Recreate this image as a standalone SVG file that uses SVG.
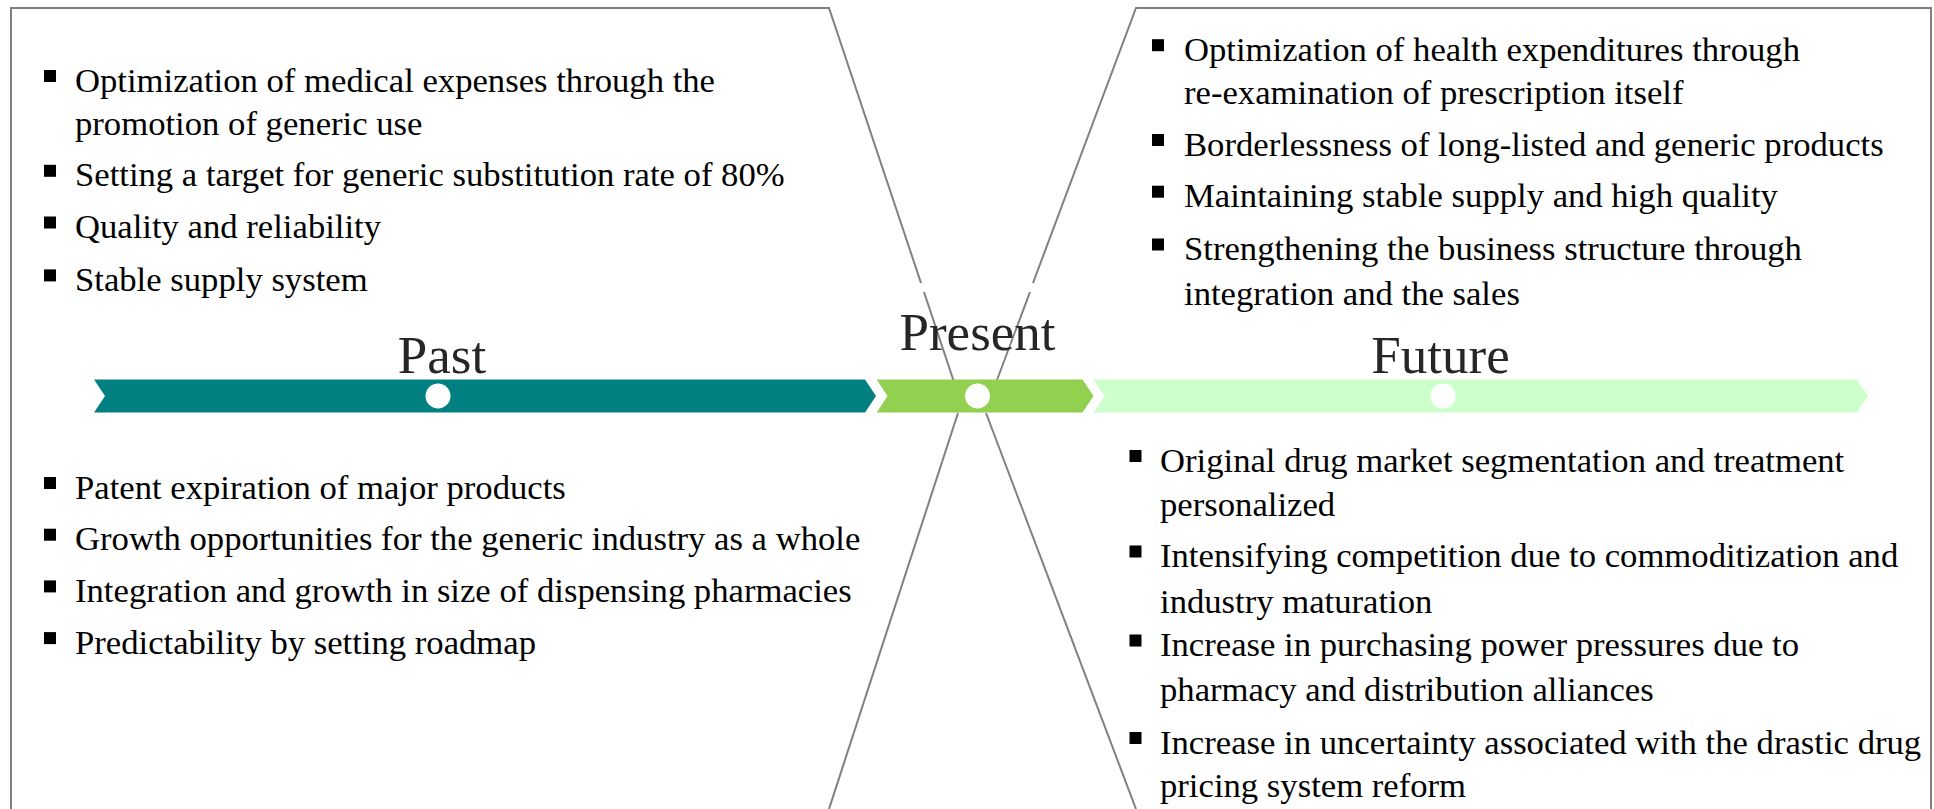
<svg xmlns="http://www.w3.org/2000/svg" width="1934" height="809" viewBox="0 0 1934 809">
  <style>
    .frame { fill: none; stroke: #808080; stroke-width: 2; }
    .item { font-family: "Liberation Serif", "Times New Roman", serif; font-size: 34.67px; fill: #000000; }
    .title { font-family: "Liberation Serif", "Times New Roman", serif; font-size: 53px; fill: #262626; text-anchor: middle; }
    .dot { fill: #000000; }
    .marker { fill: #FFFFFF; }
  </style>
  <rect width="1934" height="809" fill="#FFFFFF"/>

  <!-- Hourglass outlines of the past and future panels -->
  <g id="frames">
    <path class="frame" d="M11,809 L11,8 L829,8 L921,283"/>
    <path class="frame" d="M924,292 L956,388"/>
    <path class="frame" d="M958,413 L829,809"/>
    <path class="frame" d="M1931,809 L1931,8 L1136,8 L1033,283"/>
    <path class="frame" d="M1030,292 L994,388"/>
    <path class="frame" d="M986,413 L1136,809"/>
  </g>

  <!-- Timeline bar -->
  <g id="past-segment">
    <polygon points="94,379.5 865,379.5 876,396 865,412.5 94,412.5 105,396" fill="#008080"/>
    <circle class="marker" cx="438" cy="396" r="12.5"/>
    <text class="title" x="442" y="373">Past</text>
  </g>
  <g id="present-segment">
    <polygon points="876.7,379.5 1082.5,379.5 1093.5,396 1082.5,412.5 876.7,412.5 887.5,396" fill="#92D050"/>
    <circle class="marker" cx="977.5" cy="396" r="12.5"/>
    <text class="title" x="977.5" y="350">Present</text>
  </g>
  <g id="future-segment">
    <polygon points="1093.5,379.5 1857,379.5 1868,396 1857,412.5 1093.5,412.5 1104.5,396" fill="#CCFFCC"/>
    <circle class="marker" cx="1443" cy="396" r="12.5"/>
    <text class="title" x="1440.5" y="372.5">Future</text>
  </g>

  <!-- Past: policy drivers -->
  <g id="past-policy">
    <rect class="dot" x="44" y="70" width="12" height="12"/>
    <text class="item" x="75" y="91.5">Optimization of medical expenses through the</text>
    <text class="item" x="75" y="134.5">promotion of generic use</text>
    <rect class="dot" x="44" y="164.8" width="12" height="12"/>
    <text class="item" x="75" y="186.3">Setting a target for generic substitution rate of 80%</text>
    <rect class="dot" x="44" y="216.5" width="12" height="12"/>
    <text class="item" x="75" y="238">Quality and reliability</text>
    <rect class="dot" x="44" y="269.4" width="12" height="12"/>
    <text class="item" x="75" y="290.9">Stable supply system</text>
  </g>

  <!-- Past: market drivers -->
  <g id="past-market">
    <rect class="dot" x="44" y="477" width="12" height="12"/>
    <text class="item" x="75" y="498.5">Patent expiration of major products</text>
    <rect class="dot" x="44" y="528.7" width="12" height="12"/>
    <text class="item" x="75" y="550.2">Growth opportunities for the generic industry as a whole</text>
    <rect class="dot" x="44" y="580.4" width="12" height="12"/>
    <text class="item" x="75" y="601.9">Integration and growth in size of dispensing pharmacies</text>
    <rect class="dot" x="44" y="632.1" width="12" height="12"/>
    <text class="item" x="75" y="653.6">Predictability by setting roadmap</text>
  </g>

  <!-- Future: policy drivers -->
  <g id="future-policy">
    <rect class="dot" x="1152" y="39.2" width="12" height="12"/>
    <text class="item" x="1184" y="60.7">Optimization of health expenditures through</text>
    <text class="item" x="1184" y="103.7">re-examination of prescription itself</text>
    <rect class="dot" x="1152" y="134" width="12" height="12"/>
    <text class="item" x="1184" y="155.5">Borderlessness of long-listed and generic products</text>
    <rect class="dot" x="1152" y="185.7" width="12" height="12"/>
    <text class="item" x="1184" y="207.2">Maintaining stable supply and high quality</text>
    <rect class="dot" x="1152" y="238.5" width="12" height="12"/>
    <text class="item" x="1184" y="260">Strengthening the business structure through</text>
    <text class="item" x="1184" y="305.4">integration and the sales</text>
  </g>

  <!-- Future: market drivers -->
  <g id="future-market">
    <rect class="dot" x="1129.5" y="450" width="12" height="12"/>
    <text class="item" x="1160" y="471.5">Original drug market segmentation and treatment</text>
    <text class="item" x="1160" y="515.5">personalized</text>
    <rect class="dot" x="1129.5" y="545.5" width="12" height="12"/>
    <text class="item" x="1160" y="567">Intensifying competition due to commoditization and</text>
    <text class="item" x="1160" y="613">industry maturation</text>
    <rect class="dot" x="1129.5" y="634.5" width="12" height="12"/>
    <text class="item" x="1160" y="656">Increase in purchasing power pressures due to</text>
    <text class="item" x="1160" y="700.5">pharmacy and distribution alliances</text>
    <rect class="dot" x="1129.5" y="732" width="12" height="12"/>
    <text class="item" x="1160" y="753.5">Increase in uncertainty associated with the drastic drug</text>
    <text class="item" x="1160" y="797">pricing system reform</text>
  </g>
</svg>
